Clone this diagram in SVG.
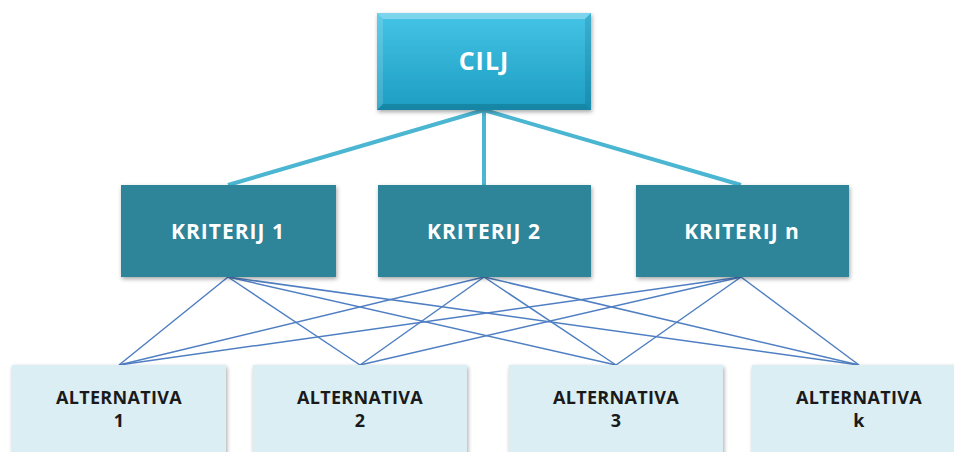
<svg xmlns="http://www.w3.org/2000/svg" width="954" height="452" viewBox="0 0 954 452">
<defs>
<linearGradient id="gTop" x1="0" y1="0" x2="0" y2="1">
<stop offset="0" stop-color="#45c4e6"/>
<stop offset="1" stop-color="#1c9dc2"/>
</linearGradient>
<filter id="sh" x="-10%" y="-10%" width="120%" height="130%">
<feDropShadow dx="1" dy="2" stdDeviation="2" flood-color="#000" flood-opacity="0.35"/>
</filter>
<style>
.t{font-family:"Open Sans","Liberation Sans",sans-serif;font-weight:bold;text-anchor:middle}
.w{fill:#ffffff}
.d{fill:#1a1a1a;font-size:18px;letter-spacing:0.3px}
.kt{font-size:21px;letter-spacing:1px}
.k{fill:#2e8499}
.a{fill:#dbeef4}
.top{stroke:#4bb6d2;stroke-width:4;fill:none}
.low{stroke:#4f7fc2;stroke-width:1.5;fill:none}
</style>
</defs>
<rect width="954" height="452" fill="#ffffff"/>
<g id="connectors">
<line class="top" x1="484" y1="110" x2="228" y2="185"/>
<line class="top" x1="484" y1="110" x2="484" y2="185"/>
<line class="top" x1="484" y1="110" x2="741" y2="185"/>
<line class="low" x1="228" y1="277" x2="119" y2="365"/>
<line class="low" x1="228" y1="277" x2="360" y2="365"/>
<line class="low" x1="228" y1="277" x2="616" y2="365"/>
<line class="low" x1="228" y1="277" x2="859" y2="365"/>
<line class="low" x1="484" y1="277" x2="119" y2="365"/>
<line class="low" x1="484" y1="277" x2="360" y2="365"/>
<line class="low" x1="484" y1="277" x2="616" y2="365"/>
<line class="low" x1="484" y1="277" x2="859" y2="365"/>
<line class="low" x1="741" y1="277" x2="119" y2="365"/>
<line class="low" x1="741" y1="277" x2="360" y2="365"/>
<line class="low" x1="741" y1="277" x2="616" y2="365"/>
<line class="low" x1="741" y1="277" x2="859" y2="365"/>
</g>
<g id="cilj">
<rect x="377" y="13" width="214" height="97" fill="url(#gTop)" filter="url(#sh)"/>
<path d="M377 13 L591 13 L585 19 L383 19 Z" fill="#ffffff" opacity="0.3"/>
<path d="M377 13 L383 19 L383 104 L377 110 Z" fill="#ffffff" opacity="0.15"/>
<path d="M377 110 L383 104 L585 104 L591 110 Z" fill="#000000" opacity="0.15"/>
<path d="M591 13 L591 110 L585 104 L585 19 Z" fill="#000000" opacity="0.1"/>
<text class="t w" x="484" y="70" font-size="25" letter-spacing="1">CILJ</text>
</g>
<g id="k1">
<rect class="k" x="121" y="185" width="215" height="92" filter="url(#sh)"/>
<text class="t w kt" x="228" y="239">KRITERIJ 1</text>
</g>
<g id="k2">
<rect class="k" x="378" y="185" width="213" height="92" filter="url(#sh)"/>
<text class="t w kt" x="484" y="239">KRITERIJ 2</text>
</g>
<g id="kn">
<rect class="k" x="636" y="185" width="213" height="92" filter="url(#sh)"/>
<text class="t w kt" x="742" y="239">KRITERIJ n</text>
</g>
<g id="a1">
<rect class="a" x="12" y="365" width="214" height="95" filter="url(#sh)"/>
<text class="t d" x="119" y="404">ALTERNATIVA</text>
<text class="t d" x="119" y="427">1</text>
</g>
<g id="a2">
<rect class="a" x="253" y="365" width="214" height="95" filter="url(#sh)"/>
<text class="t d" x="360" y="404">ALTERNATIVA</text>
<text class="t d" x="360" y="427">2</text>
</g>
<g id="a3">
<rect class="a" x="509" y="365" width="214" height="95" filter="url(#sh)"/>
<text class="t d" x="616" y="404">ALTERNATIVA</text>
<text class="t d" x="616" y="427">3</text>
</g>
<g id="ak">
<rect class="a" x="752" y="365" width="214" height="95" filter="url(#sh)"/>
<text class="t d" x="859" y="404">ALTERNATIVA</text>
<text class="t d" x="859" y="427">k</text>
</g>
</svg>
